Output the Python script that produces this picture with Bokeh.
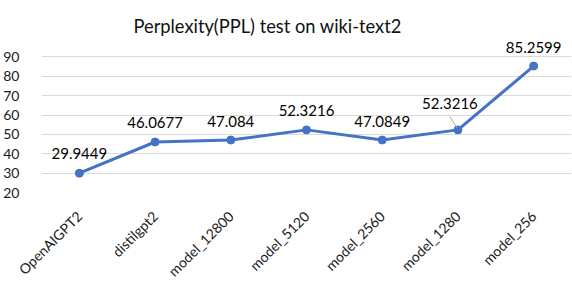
import math
from bokeh.plotting import figure
from bokeh.models import ColumnDataSource, LabelSet, FixedTicker, Range1d
from bokeh.core.properties import value
from bokeh.embed import file_html
from bokeh.resources import INLINE

models = ["OpenAIGPT2", "distilgpt2", "model_12800", "model_5120", "model_2560", "model_1280", "model_256"]
ppl = [29.9449, 46.0677, 47.084, 52.3216, 47.0849, 52.3216, 85.2599]
ppl_labels = ["29.9449", "46.0677", "47.084", "52.3216", "47.0849", "52.3216", "85.2599"]
y_ticks = [20, 30, 40, 50, 60, 70, 80, 90]

FONT = "Lato"
xs = [i + 0.5 for i in range(len(models))]

FW, FH = 530, 155
Y0, Y1 = 20, 100

p = figure(frame_width=FW, frame_height=FH, output_backend="svg", toolbar_location=None,
           x_range=Range1d(0, len(models)), y_range=Range1d(Y0, Y1),
           min_border_left=32, min_border_right=2, min_border_top=37, min_border_bottom=80)
p.outline_line_color = None
p.background_fill_color = "white"
p.border_fill_color = "white"

p.title.text = "Perplexity(PPL) test on wiki-text2"
p.title.text_font = FONT
p.title.text_font_size = "18.3px"
p.title.text_font_style = "normal"
p.title.text_color = "#111111"
p.title.align = "left"
p.title.offset = 92
p.title.standoff = 1

# axes
p.xaxis.ticker = FixedTicker(ticks=xs)
p.xaxis.major_label_overrides = {x: m for x, m in zip(xs, models)}
p.xaxis.major_label_orientation = math.pi / 4
p.yaxis.ticker = FixedTicker(ticks=y_ticks)
for ax in (p.xaxis[0], p.yaxis[0]):
    ax.axis_line_color = None
    ax.major_tick_line_color = None
    ax.minor_tick_line_color = None
    ax.major_label_text_font = FONT
    ax.major_label_text_font_size = "14px"
    ax.major_label_text_color = "#1a1a1a"
p.xaxis.major_label_standoff = 15
p.yaxis.major_label_standoff = 16

p.xgrid.grid_line_color = None
p.ygrid.ticker = FixedTicker(ticks=y_ticks)
p.ygrid.grid_line_color = "#d9d9d9"
p.ygrid.grid_line_width = 1

src = ColumnDataSource(dict(x=xs, y=ppl, lab=ppl_labels,
                            dx=[0, 0, 0, 0, 0, -8, 0],
                            dy=[20, 19, 19, 19, 19, 26, 19]))
p.line("x", "y", source=src, line_color="#4472C4", line_width=3)
p.scatter("x", "y", source=src, size=8, fill_color="#4472C4", line_color="#4472C4")

# leader line for the shifted label
px_per_x = FW / len(models)
px_per_y = FH / (Y1 - Y0)
i = 5
p.segment(x0=[xs[i] - 8 / px_per_x], y0=[ppl[i] + 13 / px_per_y],
          x1=[xs[i] - 1 / px_per_x], y1=[ppl[i] + 2 / px_per_y],
          line_color="#a6a6a6", line_width=1)

labels = LabelSet(x="x", y="y", text="lab", source=src, x_offset="dx", y_offset="dy",
                  text_align="center", text_baseline="middle",
                  text_font=value(FONT), text_font_size="15px", text_color="#000000")
p.add_layout(labels)

open("out.html", "w").write(file_html(p, INLINE))
